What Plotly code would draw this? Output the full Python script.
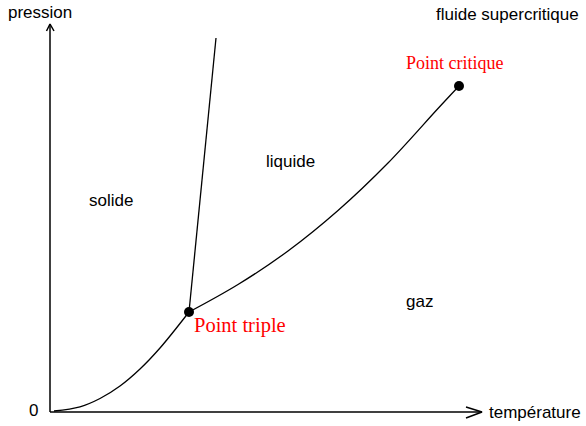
import plotly.graph_objects as go

# Phase diagram (temperature T, pressure P) in arbitrary units; origin at axis corner
# Solid-gas (sublimation) curve
sub_T = [4, 30, 50, 70, 90, 110, 139]
sub_P = [1, 5.2, 13.5, 26, 43, 64, 100]
# Solid-liquid (fusion) line
fus_T = [139, 166]
fus_P = [100, 374]
# Liquid-gas (vaporization) curve
vap_T = [139, 188, 238, 288, 338, 388, 409]
vap_P = [100, 127.5, 161, 201.5, 249, 303.5, 326]
# Special points
pts_T = [139, 409]
pts_P = [100, 326]

# Axes with arrowheads
yaxis_T = [0, 0]
yaxis_P = [0, 388]
yhead_T = [-3.5, 0, 4]
yhead_P = [381, 388, 381]
xaxis_T = [0, 432]
xaxis_P = [0, 0]
xhead_T = [416, 432, 416]
xhead_P = [5, 0, -6]

labels = [
    ("pression", -10, 400, "black", "Liberation Sans, Arial, sans-serif", 17),
    ("fluide supercritique", 457.5, 398, "black", "Liberation Sans, Arial, sans-serif", 17),
    ("Point critique", 405, 349, "red", "Liberation Serif, Times New Roman, serif", 18),
    ("liquide", 240, 251, "black", "Liberation Sans, Arial, sans-serif", 17),
    ("solide", 60.5, 211.5, "black", "Liberation Sans, Arial, sans-serif", 17),
    ("gaz", 369.5, 111, "black", "Liberation Sans, Arial, sans-serif", 17),
    ("Point triple", 190, 87, "red", "Liberation Serif, Times New Roman, serif", 20.5),
    ("0", -17, 2, "black", "Liberation Sans, Arial, sans-serif", 17),
    ("température", 485, 0, "black", "Liberation Sans, Arial, sans-serif", 17),
]

fig = go.Figure()
line = dict(color="black", width=1.3)
axline = dict(color="black", width=1.5)
fig.add_trace(go.Scatter(x=sub_T, y=sub_P, mode="lines", line=dict(shape="spline", **line)))
fig.add_trace(go.Scatter(x=fus_T, y=fus_P, mode="lines", line=line))
fig.add_trace(go.Scatter(x=vap_T, y=vap_P, mode="lines", line=dict(shape="spline", **line)))
fig.add_trace(go.Scatter(x=yaxis_T, y=yaxis_P, mode="lines", line=axline))
fig.add_trace(go.Scatter(x=yhead_T, y=yhead_P, mode="lines", line=axline))
fig.add_trace(go.Scatter(x=xaxis_T, y=xaxis_P, mode="lines", line=axline))
fig.add_trace(go.Scatter(x=xhead_T, y=xhead_P, mode="lines", line=axline))
fig.add_trace(go.Scatter(x=pts_T, y=pts_P, mode="markers", marker=dict(color="black", size=10)))

for text, x, y, color, family, size in labels:
    fig.add_annotation(x=x, y=y, text=text, showarrow=False,
                       font=dict(color=color, family=family, size=size))

fig.update_layout(
    width=586, height=426,
    margin=dict(l=0, r=0, t=0, b=0),
    paper_bgcolor="white", plot_bgcolor="white",
    showlegend=False,
    xaxis=dict(range=[-50, 536], visible=False, fixedrange=True),
    yaxis=dict(range=[-14, 412], visible=False, fixedrange=True),
)
fig.write_html("out.html", config={"displayModeBar": False},
               post_script="document.body.style.margin='0';document.body.style.overflow='hidden';")
